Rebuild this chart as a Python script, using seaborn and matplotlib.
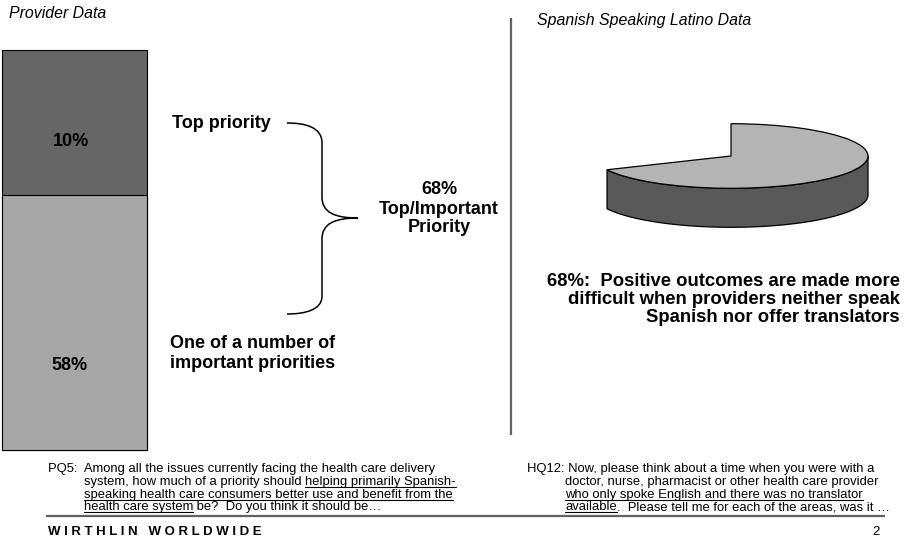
import numpy as np
import pandas as pd
import matplotlib
matplotlib.use("Agg")
import matplotlib.pyplot as plt
from matplotlib.path import Path
from matplotlib.patches import PathPatch
import seaborn as sns

# ---------------- data ----------------
provider_title = "Provider Data"
latino_title = "Spanish Speaking Latino Data"
provider_segments = ["One of a number of important priorities", "Top priority"]
provider_values = [58, 10]
provider_value_labels = ["58%", "10%"]
combined_label = ["68%", "Top/Important", "Priority"]
top_label = "Top priority"
important_label = ["One of a number of", "important priorities"]
latino_slices = ["Made more difficult", "Other"]
latino_values = [68, 32]
latino_caption = ["68%:  Positive outcomes are made more",
                  "difficult when providers neither speak",
                  "Spanish nor offer translators"]
pq5_lines = [
    [("PQ5:  Among all the issues currently facing the health care delivery", False)],
    [("system, how much of a priority should ", False), ("helping primarily Spanish-", True)],
    [("speaking health care consumers better use and benefit from the", True)],
    [("health care system", True), (" be?  Do you think it should be\u2026", False)],
]
hq12_lines = [
    [("HQ12: Now, please think about a time when you were with a", False)],
    [("doctor, nurse, pharmacist or other health care provider", False)],
    [("who only spoke English and there was no translator", True)],
    [("available", True), (".  Please tell me for each of the areas, was it \u2026", False)],
]
footer = "W I R T H L I N   W O R L D W I D E"
page_number = "2"

# ---------------- style ----------------
sns.set_theme(style="white")
plt.rcParams["font.family"] = ["Liberation Sans", "DejaVu Sans"]
plt.rcParams["text.color"] = "black"

W, H = 905, 550
fig = plt.figure(figsize=(W / 100, H / 100), dpi=100)


def px_axes(x0, y0, x1, y1):
    return fig.add_axes([x0 / W, 1 - y1 / H, (x1 - x0) / W, (y1 - y0) / H])


ax0 = px_axes(0, 0, W, H)
ax0.set_xlim(0, W)
ax0.set_ylim(H, 0)
ax0.axis("off")
ax0.set_zorder(10)
ax0.patch.set_visible(False)

# ---------------- stacked bar (provider) ----------------
seg_px = (255, 145)  # drawn heights of the two segments in the original
low = provider_values[0]
hi_scale = seg_px[1] / provider_values[1]
lo_scale = seg_px[0] / provider_values[0]


def fwd(y):
    y = np.asarray(y, dtype=float)
    return np.where(y <= low, y * lo_scale, seg_px[0] + (y - low) * hi_scale)


def inv(v):
    v = np.asarray(v, dtype=float)
    return np.where(v <= seg_px[0], v / lo_scale, low + (v - seg_px[0]) / hi_scale)


axb = px_axes(2, 50, 147, 450)
axb.patch.set_visible(False)
tops = np.cumsum(provider_values)
bar_df = pd.DataFrame({"group": ["Provider"] * 2, "segment": provider_segments, "top": tops})
colors = ["#A6A6A6", "#666666"]
for i in [1, 0]:
    sns.barplot(data=bar_df.iloc[[i]], x="group", y="top", color=colors[i], saturation=1,
                width=1, edgecolor="black", linewidth=0.8, ax=axb)
axb.set_yscale("function", functions=(fwd, inv))
axb.set_ylim(0, tops[-1])
axb.set_xlim(-0.5, 0.5)
axb.axis("off")
for p in axb.patches:
    p.set_clip_on(False)

ax0.text(71, 141, provider_value_labels[1], ha="center", va="center", fontsize=13, fontweight="bold")
ax0.text(69, 365, provider_value_labels[0], ha="center", va="center", fontsize=13, fontweight="bold")

# labels and brace
ax0.text(172, 124, top_label, ha="left", va="center", fontsize=13, fontweight="bold")
ax0.text(170, 343, important_label[0], ha="left", va="center", fontsize=13, fontweight="bold")
ax0.text(170, 363, important_label[1], ha="left", va="center", fontsize=13, fontweight="bold")

verts = [(287, 123), (305, 123), (322, 127), (322, 143),
         (322, 197),
         (322, 212), (334, 218), (358, 218),
         (334, 218), (322, 224), (322, 239),
         (322, 296),
         (322, 310), (305, 314), (287, 314)]
codes = [Path.MOVETO, Path.CURVE4, Path.CURVE4, Path.CURVE4,
         Path.LINETO,
         Path.CURVE4, Path.CURVE4, Path.CURVE4,
         Path.CURVE4, Path.CURVE4, Path.CURVE4,
         Path.LINETO,
         Path.CURVE4, Path.CURVE4, Path.CURVE4]
ax0.add_patch(PathPatch(Path(verts, codes), fill=False, lw=1.1, edgecolor="black"))

for txt, y in zip(combined_label, [190, 209, 228]):
    ax0.text(439, y, txt, ha="center", va="center", fontsize=13, fontweight="bold")

# titles and separator
ax0.text(9, 13, provider_title, ha="left", va="center", fontsize=11.4, style="italic")
ax0.text(537, 20, latino_title, ha="left", va="center", fontsize=11.4, style="italic")
ax0.plot([511, 511], [18, 435], color="#606060", lw=1.6, solid_capstyle="butt")

# ---------------- 3D pie (latino) ----------------
cx, cy, rx, ry, depth, pad = 731, 156, 137, 32.3, 39, 5
axp = px_axes(cx - rx - pad, cy - ry - pad, cx + rx + pad, cy + ry + depth + pad)
axp.patch.set_visible(False)
d = depth / ry
wedges, _ = axp.pie(latino_values, startangle=90, counterclock=False,
                    colors=["#B4B4B4", "none"],
                    wedgeprops=dict(edgecolor="black", linewidth=0.9))
wedges[1].set_edgecolor("none")
for w_ in wedges:
    w_.set_zorder(3)
end_angle = np.deg2rad(90 - 360 * latino_values[0] / sum(latino_values))
t = np.linspace(end_angle, 0, 200)
side_x = np.concatenate([np.cos(t), np.cos(t[::-1])])
side_y = np.concatenate([np.sin(t), np.sin(t[::-1]) - d])
axp.fill(side_x, side_y, facecolor="#595959", edgecolor="black", linewidth=0.9, zorder=2)
axp.set_aspect("auto")
axp.set_xlim(-(rx + pad) / rx, (rx + pad) / rx)
axp.set_ylim(-(ry + depth + pad) / ry, (ry + pad) / ry)
axp.axis("off")

for txt, y in zip(latino_caption, [282, 300, 318]):
    ax0.text(900, y, txt, ha="right", va="center", fontsize=13.3, fontweight="bold")

# ---------------- question texts ----------------
renderer = fig.canvas.get_renderer()
inv_tr = ax0.transData.inverted()


def draw_block(lines, x_first, x_rest, baselines, size=9.4):
    for li, (pieces, yb) in enumerate(zip(lines, baselines)):
        x = x_first if li == 0 else x_rest
        for txt, under in pieces:
            tt = ax0.text(x, yb, txt, ha="left", va="baseline", fontsize=size, color="black")
            bb = tt.get_window_extent(renderer)
            (x0d, _), (x1d, _) = inv_tr.transform([(bb.x0, bb.y0), (bb.x1, bb.y1)])
            if under:
                ax0.plot([x0d, x1d], [yb + 2, yb + 2], color="black", lw=0.8)
            x = x1d


draw_block(pq5_lines, 48, 84, [472, 485, 498, 510])
draw_block(hq12_lines, 527, 565, [472, 485, 498, 510])

ax0.plot([46, 885], [516, 516], color="#606060", lw=1.6, solid_capstyle="butt")
ax0.text(48, 532, footer, ha="left", va="center", fontsize=9.5, fontweight="bold")
ax0.text(876, 532, page_number, ha="center", va="center", fontsize=9.5)

fig.savefig("out.png", dpi=100)
